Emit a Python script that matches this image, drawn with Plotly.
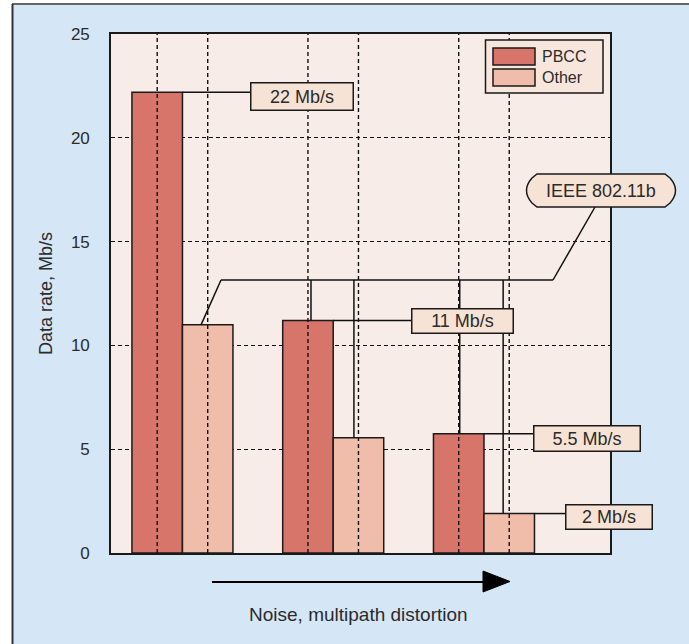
import plotly.graph_objects as go

# ---------------- data ----------------
groups = [0, 1, 2]                      # noise / multipath levels (increasing)
series_names = ["PBCC", "Other"]
pbcc_rate = [22.2, 11.2, 5.75]
other_rate = [11.0, 5.55, 1.9]
rate_labels = ["22 Mb/s", "11 Mb/s", "5.5 Mb/s", "2 Mb/s"]
standard_label = "IEEE 802.11b"
y_ticks = [0, 5, 10, 15, 20, 25]
y_title = "Data rate, Mb/s"
x_title = "Noise, multipath distortion"

# ---------------- styles ----------------
W, H = 689, 644
ML, MR, MT, MB = 111, 79, 34, 91
PW, PH = W - ML - MR, H - MT - MB
FONT = "Liberation Sans, Arial, sans-serif"
TXT = "#2b2b2b"
C_PBCC = "#d8756a"
C_OTHER = "#f1bdab"
C_LABEL = "#f7e3d5"
C_PLOT = "#f7ece8"
C_PAPER = "#d5e6f6"
BARGAP = 0.33
BW = (1 - BARGAP) / 2
XR = [-0.474, 2.836]
YR = [0, 25]


def px(xp):   # pixel x -> paper fraction
    return (xp - ML) / PW


def py(yp):   # pixel y -> paper fraction
    return (H - MB - yp) / PH


def dx(xp):   # pixel x -> data x (for label placement)
    return XR[0] + (xp - ML) / PW * (XR[1] - XR[0])


def dy(yp):   # pixel y -> data y (for label placement)
    return YR[0] + (H - MB - yp) / PH * (YR[1] - YR[0])


fig = go.Figure()
fig.add_trace(go.Bar(x=groups, y=pbcc_rate, name=series_names[0],
                     marker=dict(color=C_PBCC, line=dict(color="#1a1a1a", width=1.5))))
fig.add_trace(go.Bar(x=groups, y=other_rate, name=series_names[1],
                     marker=dict(color=C_OTHER, line=dict(color="#1a1a1a", width=1.5))))

shapes = []
# vertical dashed grid lines through bar centres (drawn over bars)
for g in groups:
    for off in (-BW / 2, BW / 2):
        shapes.append(dict(type="line", xref="x", yref="paper", x0=g + off, x1=g + off,
                           y0=0, y1=1, layer="above",
                           line=dict(color="#111", width=1.4, dash="4px,3px")))

LINE = dict(color="#111", width=1.5)


def seg(x0, y0, x1, y1):
    shapes.append(dict(type="line", xref="x", yref="y", x0=x0, y0=y0, x1=x1, y1=y1,
                       layer="above", line=LINE))


# leader lines to rate labels
box_left = [dx(250), dx(411), dx(533), dx(565)]
box_mid = [dy(96.5), dy(321), dy(438.5), dy(517)]
box_w = [104, 103, 108, 88]
box_h = [29, 26, 27, 26]
seg(groups[0], pbcc_rate[0], box_left[0], pbcc_rate[0])
seg(groups[1], pbcc_rate[1], box_left[1], pbcc_rate[1])
seg(groups[2], pbcc_rate[2], box_left[2], pbcc_rate[2])
seg(groups[2] + BW, other_rate[2], box_left[3], other_rate[2])

# IEEE 802.11b bus connecting the "Other"-type rates
bus_y = dy(280)
seg(groups[0] + 0.37 * BW, other_rate[0], dx(221), bus_y)
seg(dx(221), bus_y, dx(553), bus_y)
seg(dx(553), bus_y, dx(595), dy(207))
drops = [(groups[1] - BW + 0.56 * BW, pbcc_rate[1]),
         (groups[1] + 0.41 * BW, other_rate[1]),
         (groups[2] - BW + 0.52 * BW, pbcc_rate[2]),
         (groups[2] + 0.38 * BW, other_rate[2])]
for xd, yd in drops:
    seg(xd, bus_y, xd, yd)

# IEEE bevelled label box (paper coords)
path = "M{:.5f},{:.5f}".format(px(537), py(174))
path += " L{:.5f},{:.5f}".format(px(665), py(174))
path += " L{:.5f},{:.5f}".format(px(670), py(178))
path += " Q{:.5f},{:.5f} {:.5f},{:.5f}".format(px(681), py(190.5), px(670), py(203))
path += " L{:.5f},{:.5f}".format(px(665), py(207))
path += " L{:.5f},{:.5f}".format(px(537), py(207))
path += " L{:.5f},{:.5f}".format(px(532), py(203))
path += " Q{:.5f},{:.5f} {:.5f},{:.5f}".format(px(521), py(190.5), px(532), py(178))
path += " Z"
shapes.append(dict(type="path", xref="paper", yref="paper", path=path, layer="above",
                   fillcolor=C_LABEL, line=dict(color="#1a1a1a", width=1.5)))

# manual legend
shapes.append(dict(type="rect", xref="paper", yref="paper", x0=px(485.5), x1=px(603),
                   y0=py(93), y1=py(40), layer="above", fillcolor="#f7e6dc",
                   line=dict(color="#1a1a1a", width=1.5)))
for (t, b), col in zip([(48, 65), (69, 86)], [C_PBCC, C_OTHER]):
    shapes.append(dict(type="rect", xref="paper", yref="paper", x0=px(493), x1=px(535),
                       y0=py(b), y1=py(t), layer="above", fillcolor=col,
                       line=dict(color="#1a1a1a", width=1.5)))

# arrow along x
shapes.append(dict(type="line", xref="paper", yref="paper", x0=px(212), x1=px(486),
                   y0=py(582), y1=py(582), line=dict(color="#000", width=2.2)))
shapes.append(dict(type="path", xref="paper", yref="paper",
                   path="M{:.5f},{:.5f} L{:.5f},{:.5f} L{:.5f},{:.5f} Z".format(
                       px(483), py(571), px(510), py(581.5), px(483), py(592)),
                   fillcolor="#000", line=dict(color="#000", width=1)))

# outer frame: white strips and border
shapes.append(dict(type="rect", xref="paper", yref="paper", x0=px(-5), x1=px(12),
                   y0=py(650), y1=py(-5), layer="above", fillcolor="white", line=dict(width=0)))
shapes.append(dict(type="rect", xref="paper", yref="paper", x0=px(-5), x1=px(700),
                   y0=py(4), y1=py(-5), layer="above", fillcolor="white", line=dict(width=0)))
shapes.append(dict(type="line", xref="paper", yref="paper", x0=px(12), x1=px(700),
                   y0=py(4), y1=py(4), layer="above", line=dict(color="#666", width=2)))
shapes.append(dict(type="line", xref="paper", yref="paper", x0=px(12.5), x1=px(12.5),
                   y0=py(4), y1=py(650), layer="above", line=dict(color="#333", width=2)))

annotations = []
for i in range(4):
    annotations.append(dict(x=box_left[i], y=box_mid[i], xref="x", yref="y",
                            xanchor="left", yanchor="middle", text=rate_labels[i],
                            showarrow=False, bgcolor=C_LABEL, bordercolor="#1a1a1a",
                            borderwidth=1.5, borderpad=0, width=box_w[i] - 3,
                            height=box_h[i] - 3, align="center",
                            font=dict(family=FONT, size=18, color=TXT)))
annotations.append(dict(x=px(601), y=py(191), xref="paper", yref="paper",
                        xanchor="center", yanchor="middle",
                        text=standard_label, showarrow=False,
                        font=dict(family=FONT, size=18, color=TXT)))
for name, yc in zip(series_names, [56.5, 77.5]):
    annotations.append(dict(x=px(540), y=py(yc), xref="paper", yref="paper",
                            xanchor="left", yanchor="middle", text=name, showarrow=False,
                            font=dict(family=FONT, size=16, color=TXT)))
annotations.append(dict(x=px(358), y=py(614), xref="paper", yref="paper",
                        xanchor="center", yanchor="middle",
                        text=x_title, showarrow=False,
                        font=dict(family=FONT, size=19, color=TXT)))
annotations.append(dict(x=px(46), y=py(294), xref="paper", yref="paper",
                        xanchor="center", yanchor="middle",
                        text=y_title, showarrow=False, textangle=-90,
                        font=dict(family=FONT, size=18, color=TXT)))

fig.update_layout(
    width=W, height=H,
    margin=dict(l=ML, r=MR, t=MT, b=MB, pad=0),
    paper_bgcolor=C_PAPER, plot_bgcolor=C_PLOT,
    barmode="group", bargap=BARGAP, bargroupgap=0,
    showlegend=False, hovermode=False,
    shapes=shapes, annotations=annotations,
    font=dict(family=FONT, color=TXT),
    xaxis=dict(range=XR, showticklabels=False, ticks="", showgrid=False, zeroline=False,
               showline=True, mirror=True, linecolor="#1a1a1a", linewidth=1.6,
               fixedrange=True),
    yaxis=dict(range=YR, tickvals=y_ticks, ticks="", ticklabelstandoff=16,
               tickfont=dict(family=FONT, size=17, color=TXT),
               showgrid=True, gridcolor="#111", gridwidth=1.4, griddash="4px,3px",
               zeroline=False, showline=True, mirror=True, linecolor="#1a1a1a",
               linewidth=1.6, fixedrange=True),
)

fig.write_html("out.html", config={"displayModeBar": False},
               post_script="document.body.style.margin='0';")
